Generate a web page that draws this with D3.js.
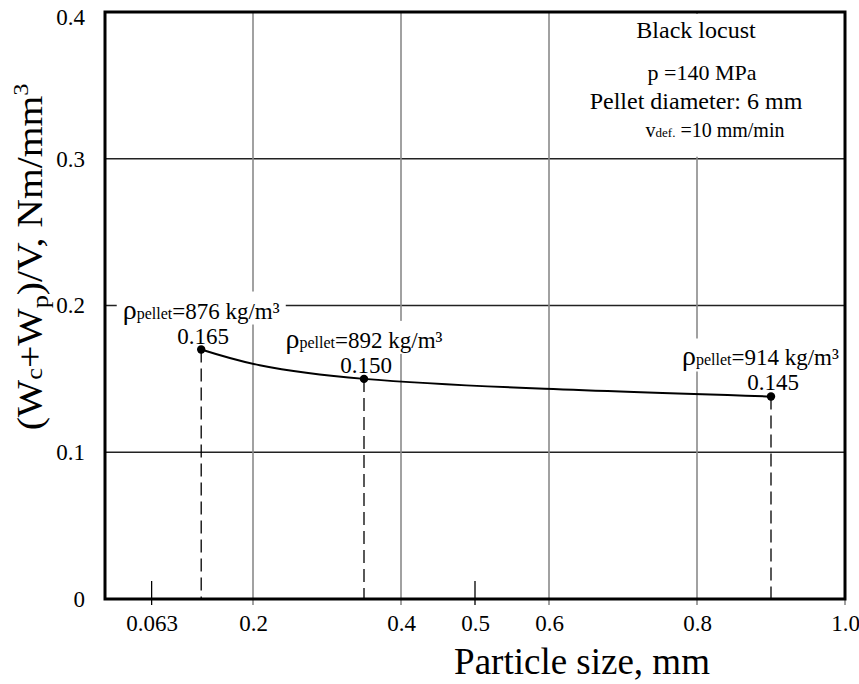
<!DOCTYPE html>
<html>
<head>
<meta charset="utf-8">
<script src="https://cdn.jsdelivr.net/npm/d3@7"></script>
<style>
body { margin: 0; background: #fff; }
text { font-family: "Liberation Serif", "Times New Roman", serif; fill: #000; }
</style>
</head>
<body>
<svg id="chart" width="859" height="684"></svg>
<script>
// particle size of the three fractions, mm
var particleSize = [0.13, 0.35, 0.9];
// (Wc+Wp)/V as plotted, Nm/mm3
var energy = [0.170, 0.150, 0.138];
// values printed above the points
var energyLabels = ["0.165", "0.150", "0.145"];
// pellet density, kg/m3
var pelletDensity = [876, 892, 914];

var xTicks = [0.063, 0.2, 0.4, 0.5, 0.6, 0.8, 1.0];
var xTickLabels = ["0.063", "0.2", "0.4", "0.5", "0.6", "0.8", "1.0"];
var xGrid = [0.2, 0.4, 0.6, 0.8, 1.0];
var xShortTicks = [0.063, 0.5];
var yTicks = [0, 0.1, 0.2, 0.3, 0.4];
var yTickLabels = ["0", "0.1", "0.2", "0.3", "0.4"];
var yGrid = [0.1, 0.2, 0.3];

var margin = {top: 12, right: 14, bottom: 85, left: 105};
var width = 859, height = 684;

var svg = d3.select("#chart");

var x = d3.scaleLinear().domain([0, 1]).range([margin.left, width - margin.right]);
var y = d3.scaleLinear().domain([0, 0.4]).range([height - margin.bottom, margin.top]);

// horizontal grid
svg.append("g")
    .selectAll("line")
    .data(yGrid)
    .enter().append("line")
    .attr("x1", x(0))
    .attr("x2", x(1))
    .attr("y1", d => y(d))
    .attr("y2", d => y(d))
    .attr("stroke", "#222")
    .attr("stroke-width", 1.3);

// vertical grid, sticks out a bit under the axis
svg.append("g")
    .selectAll("line")
    .data(xGrid)
    .enter().append("line")
    .attr("x1", d => x(d))
    .attr("x2", d => x(d))
    .attr("y1", y(0.4))
    .attr("y2", y(0) + 6)
    .attr("stroke", "#8a8a8a")
    .attr("stroke-width", 1.6);

// short black ticks
svg.append("g")
    .selectAll("line")
    .data(xShortTicks)
    .enter().append("line")
    .attr("x1", d => x(d))
    .attr("x2", d => x(d))
    .attr("y1", y(0) - 18)
    .attr("y2", y(0) + 6)
    .attr("stroke", "#000")
    .attr("stroke-width", 1.3);

// axes (labels only)
var xAxis = svg.append("g")
    .attr("transform", "translate(0," + y(0) + ")")
    .call(d3.axisBottom(x).tickValues(xTicks)
        .tickFormat((d, i) => xTickLabels[i])
        .tickSize(0).tickPadding(16));
xAxis.select(".domain").remove();
xAxis.selectAll("text")
    .style("font-size", "23px")
    .style("font-family", "'Liberation Serif', serif");

var yAxis = svg.append("g")
    .attr("transform", "translate(" + x(0) + ",0)")
    .call(d3.axisLeft(y).tickValues(yTicks)
        .tickFormat((d, i) => yTickLabels[i])
        .tickSize(0).tickPadding(20));
yAxis.select(".domain").remove();
yAxis.selectAll("text")
    .style("font-size", "23px")
    .style("font-family", "'Liberation Serif', serif");
yAxis.selectAll(".tick").filter(d => d === 0.4)
    .select("text").attr("dy", "0.55em");

// info box top right
var info = svg.append("g");
info.append("rect")
    .attr("x", 560)
    .attr("y", y(0.4) + 2)
    .attr("width", x(1) - 562)
    .attr("height", y(0.3) - y(0.4) - 4)
    .attr("fill", "#fff");
info.append("text").attr("x", 696).attr("y", 38)
    .attr("text-anchor", "middle").style("font-size", "24px")
    .text("Black locust");
info.append("text").attr("x", 702).attr("y", 80)
    .attr("text-anchor", "middle").style("font-size", "22px")
    .text("p =140 MPa");
info.append("text").attr("x", 696).attr("y", 109)
    .attr("text-anchor", "middle").style("font-size", "24px")
    .text("Pellet diameter: 6 mm");
var vLine = info.append("text").attr("x", 715).attr("y", 137)
    .attr("text-anchor", "middle").style("font-size", "20px");
vLine.append("tspan").text("v");
vLine.append("tspan").style("font-size", "13px").text("def.");
vLine.append("tspan").text(" =10 mm/min");

// point labels
var pts = particleSize.map((d, i) => ({
    size: d, e: energy[i], label: energyLabels[i], rho: pelletDensity[i]
}));

var labels = svg.append("g")
    .selectAll("g")
    .data(pts)
    .enter().append("g");

labels.each(function (d) {
    let g = d3.select(this);
    let px = x(d.size), py = y(d.e);
    let rho = g.append("text")
        .attr("x", px)
        .attr("y", py - 31)
        .attr("text-anchor", "middle");
    rho.append("tspan").style("font-size", "28px").text("ρ");
    rho.append("tspan").style("font-size", "16px").text("pellet");
    rho.append("tspan").style("font-size", "23px").text("=" + d.rho + " kg/m³");
    // keep it inside the frame
    let bb = rho.node().getBBox();
    if (bb.x + bb.width > x(1) - 6) {
        rho.attr("x", px - (bb.x + bb.width - (x(1) - 6)));
        bb = rho.node().getBBox();
    }
    g.insert("rect", "text")
        .attr("x", bb.x - 6)
        .attr("y", bb.y - 2)
        .attr("width", bb.width + 12)
        .attr("height", bb.height + 2)
        .attr("fill", "#fff");
    g.append("text")
        .attr("x", px + 2)
        .attr("y", py - 6)
        .attr("text-anchor", "middle")
        .style("font-size", "23px")
        .text(d.label);
});

// drop lines
svg.append("g")
    .selectAll("line")
    .data(pts)
    .enter().append("line")
    .attr("x1", d => x(d.size))
    .attr("x2", d => x(d.size))
    .attr("y1", d => y(d.e))
    .attr("y2", y(0))
    .attr("stroke", "#000")
    .attr("stroke-width", 1.3)
    .attr("stroke-dasharray", "13,6");

// curve
var line = d3.line()
    .x(d => x(d.size))
    .y(d => y(d.e))
    .curve(d3.curveNatural);

svg.append("path")
    .datum(pts)
    .attr("d", line)
    .attr("fill", "none")
    .attr("stroke", "#000")
    .attr("stroke-width", 2);

svg.append("g")
    .selectAll("circle")
    .data(pts)
    .enter().append("circle")
    .attr("cx", d => x(d.size))
    .attr("cy", d => y(d.e))
    .attr("r", 4.2)
    .attr("fill", "#000");

// frame
svg.append("rect")
    .attr("x", x(0))
    .attr("y", y(0.4))
    .attr("width", x(1) - x(0))
    .attr("height", y(0) - y(0.4))
    .attr("fill", "none")
    .attr("stroke", "#000")
    .attr("stroke-width", 3);

// axis titles
svg.append("text")
    .attr("x", 582)
    .attr("y", 674)
    .attr("text-anchor", "middle")
    .style("font-size", "37px")
    .text("Particle size, mm");

var yTitle = svg.append("text")
    .attr("transform", "translate(42,257) rotate(-90) scale(1.1,1)")
    .attr("text-anchor", "middle")
    .style("font-size", "36px");
yTitle.append("tspan").text("(W");
yTitle.append("tspan").style("font-size", "24px").text("c");
yTitle.append("tspan").text("+W");
yTitle.append("tspan").style("font-size", "24px").attr("dy", 6).text("p");
yTitle.append("tspan").attr("dy", -6).text(")/V, Nm/mm");
yTitle.append("tspan").style("font-size", "22px").attr("dy", -14).text("3");
</script>
</body>
</html>
